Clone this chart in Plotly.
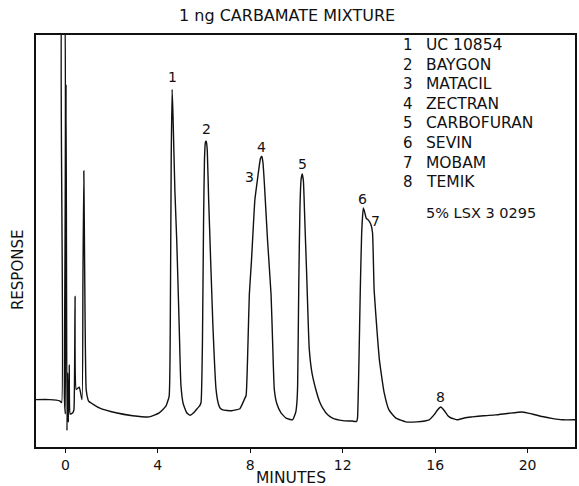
import plotly.graph_objects as go

# Chromatogram trace (minutes, detector response in % of full scale)
minutes = [-1.27, -0.68, -0.25, -0.16, -0.14, -0.06, -0.04, 0.00, 0.03, 0.07, 0.10, 0.13,
           0.17, 0.21, 0.32, 0.37, 0.42, 0.47, 0.60, 0.72, 0.76, 0.80, 0.84, 0.90, 0.98,
           1.01, 1.47, 2.19, 2.91, 3.63, 4.06, 4.35, 4.49, 4.54, 4.58, 4.62, 4.66, 4.74,
           4.82, 4.92, 5.00, 5.10, 5.25, 5.40, 5.55, 5.70, 5.80, 5.87, 5.93, 5.98, 6.02,
           6.06, 6.10, 6.14, 6.20, 6.38, 6.52, 6.62, 6.70, 6.81, 7.20, 7.55, 7.74, 7.82,
           7.90, 7.96, 8.05, 8.20, 8.29, 8.36, 8.44, 8.50, 8.55, 8.61, 8.75, 8.90, 8.97,
           9.04, 9.15, 9.33, 9.55, 9.83, 9.97, 10.02, 10.05, 10.10, 10.15, 10.20, 10.25,
           10.30, 10.36, 10.44, 10.55, 10.67, 10.84, 11.00, 11.13, 11.35, 11.56, 12.00,
           12.40, 12.60, 12.64, 12.70, 12.76, 12.82, 12.89, 12.95, 13.02, 13.12, 13.22,
           13.29, 13.36, 13.50, 13.58, 13.65, 13.80, 14.00, 14.30, 14.73, 15.20, 15.74,
           15.95, 16.10, 16.24, 16.40, 16.55, 16.67, 16.96, 17.30, 17.61, 18.10, 18.62,
           19.20, 19.77, 20.20, 20.63, 21.10, 21.49, 22.10]
response = [11.5, 11.5, 11.2, 10.8, 110, 110, 12, 8, 88, 4, 18, 6,
            20, 8, 8.3, 9, 36.6, 14, 14.5, 11.5, 40, 67, 40, 14, 11.5,
            11.1, 9.5, 8.3, 7.6, 7.3, 8.3, 9.9, 12.3, 30, 70, 86.8, 80, 62,
            50, 30.4, 15, 10.5, 8.3, 7.7, 8.3, 9.3, 9.9, 10.8, 25, 55, 70,
            74, 74.2, 72, 60, 30, 14, 10.5, 9.4, 9.0, 8.8, 9.3, 11.5, 12.5,
            25, 37, 45, 60, 64, 67, 70, 70.6, 69, 64, 50, 37, 25,
            14, 10.5, 8.3, 7.0, 6.6, 8.5, 11, 15, 40, 58, 65, 66.3,
            64.5, 55, 42, 24, 18, 13.9, 11, 9.5, 7.8, 7.0, 6.4,
            6.3, 6.2, 7, 20, 38, 52, 58, 57, 55.5, 55, 54,
            52, 38, 27, 21.5, 18.5, 13, 9, 7, 6.1, 6.1, 6.6,
            7.8, 9.0, 9.7, 8.8, 7.6, 7.1, 6.6, 7.1, 7.3, 7.6, 7.8,
            8.2, 8.5, 8.0, 7.4, 6.9, 6.6, 6.6]

# Peak labels
peak_numbers = ["1", "2", "3", "4", "5", "6", "7", "8"]
peak_label_minutes = [4.62, 6.09, 7.98, 8.47, 10.24, 12.86, 13.43, 16.24]
peak_label_response = [89.7, 77.1, 65.6, 72.9, 68.8, 60.3, 54.9, 12.2]

# Key
compounds = ["UC 10854", "BAYGON", "MATACIL", "ZECTRAN", "CARBOFURAN", "SEVIN", "MOBAM", "TEMIK"]
column_note = "5% LSX 3 0295"

title_text = "1 ng CARBAMATE MIXTURE"
x_title = "MINUTES"
y_title = "RESPONSE"
x_ticks = [0, 4, 8, 12, 16, 20]

FONT = "DejaVu Sans"
INK = "#111111"

fig = go.Figure()
fig.add_trace(go.Scatter(x=minutes, y=response, mode="lines",
                         line=dict(color=INK, width=1.4, shape="spline", smoothing=0.4),
                         hoverinfo="skip", showlegend=False))

ann = []
for n, tx, ty in zip(peak_numbers, peak_label_minutes, peak_label_response):
    ann.append(dict(x=tx, y=ty, xref="x", yref="y", text=n, showarrow=False,
                    font=dict(family=FONT, size=14, color=INK),
                    xanchor="center", yanchor="middle"))

W, H = 579, 486
L, R, T, B = 36, 2, 35, 39
pw, ph = W - L - R, H - T - B


def px(x):
    return (x - L) / pw


def py(y):
    return (H - B - y) / ph


line_y0, line_dy = 45, 19.6
for i, name in enumerate(compounds):
    y = line_y0 + i * line_dy
    ann.append(dict(x=px(416), y=py(y), xref="paper", yref="paper", text=str(i + 1),
                    showarrow=False, xanchor="right", yanchor="middle",
                    font=dict(family=FONT, size=15, color=INK)))
    ann.append(dict(x=px(425), y=py(y), xref="paper", yref="paper", text=name,
                    showarrow=False, xanchor="left", yanchor="middle",
                    font=dict(family=FONT, size=15.5, color=INK)))
ann.append(dict(x=px(425), y=py(213), xref="paper", yref="paper", text=column_note,
                showarrow=False, xanchor="left", yanchor="middle",
                font=dict(family=FONT, size=14.5, color=INK)))

ann.append(dict(x=px(288), y=py(16), xref="paper", yref="paper", text=title_text,
                showarrow=False, xanchor="center", yanchor="middle",
                font=dict(family=FONT, size=16, color=INK)))
ann.append(dict(x=px(292), y=py(478), xref="paper", yref="paper", text=x_title,
                showarrow=False, xanchor="center", yanchor="middle",
                font=dict(family=FONT, size=15.5, color=INK)))
ann.append(dict(x=px(18), y=py(270), xref="paper", yref="paper", text=y_title,
                showarrow=False, xanchor="center", yanchor="middle", textangle=-90,
                font=dict(family=FONT, size=15, color=INK)))

fig.update_layout(
    width=W, height=H,
    margin=dict(l=L, r=R, t=T, b=B, pad=0),
    paper_bgcolor="white", plot_bgcolor="white",
    annotations=ann,
    xaxis=dict(range=[-1.27, 22.05], tickvals=x_ticks, ticktext=[str(v) for v in x_ticks],
               ticks="outside", ticklen=4, tickcolor=INK, tickwidth=1.3,
               showline=True, linecolor=INK, linewidth=1.5, mirror=True,
               showgrid=False, zeroline=False,
               tickfont=dict(family=FONT, size=14, color=INK)),
    yaxis=dict(range=[0, 100], showticklabels=False, ticks="",
               showline=True, linecolor=INK, linewidth=1.5, mirror=True,
               showgrid=False, zeroline=False),
)

fig.write_html("out.html")
